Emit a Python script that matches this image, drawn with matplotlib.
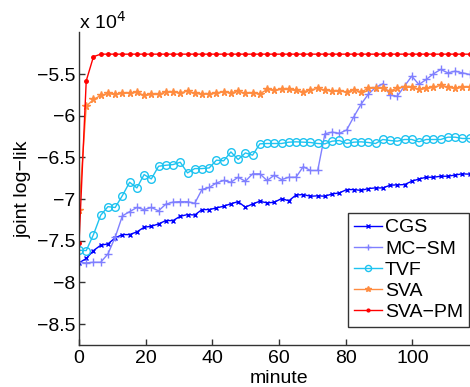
import numpy as np
import matplotlib
matplotlib.use("Agg")
import matplotlib.pyplot as plt
from matplotlib.ticker import FuncFormatter, FixedLocator

plt.rcParams['font.family'] = ['Liberation Sans', 'DejaVu Sans']

# time grid (minutes)
step = 2.17
n_pts = 55

# values in units of 1e4
cgs = [-7.765, -7.712, -7.617, -7.553, -7.537, -7.465, -7.425, -7.425, -7.393, -7.337,
       -7.325, -7.297, -7.257, -7.257, -7.205, -7.185, -7.19, -7.125, -7.125, -7.105,
       -7.085, -7.055, -7.03, -7.097, -7.057, -7.025, -7.045, -7.037, -6.993, -7.02,
       -6.95, -6.945, -6.965, -6.96, -6.965, -6.937, -6.925, -6.885, -6.885, -6.895,
       -6.873, -6.865, -6.865, -6.833, -6.828, -6.825, -6.785, -6.758, -6.737, -6.737,
       -6.725, -6.725, -6.71, -6.696, -6.70]
mcsm = [-7.76, -7.765, -7.757, -7.757, -7.657, -7.457, -7.2, -7.15, -7.1, -7.125,
        -7.1, -7.14, -7.06, -7.035, -7.03, -7.03, -7.05, -6.884, -6.86, -6.805,
        -6.776, -6.797, -6.737, -6.785, -6.696, -6.696, -6.776, -6.713, -6.765, -6.737,
        -6.737, -6.61, -6.656, -6.656, -6.214, -6.196, -6.21, -6.17, -6.01, -5.86,
        -5.74, -5.66, -5.616, -5.752, -5.764, -5.644, -5.524, -5.624, -5.564, -5.496,
        -5.444, -5.484, -5.464, -5.484, -5.504]
tvf = [-7.613, -7.617, -7.425, -7.193, -7.09, -7.1, -6.957, -6.797, -6.865, -6.705,
       -6.757, -6.605, -6.593, -6.585, -6.557, -6.685, -6.633, -6.633, -6.625, -6.532,
       -6.54, -6.433, -6.524, -6.445, -6.472, -6.336, -6.332, -6.332, -6.332, -6.316,
       -6.312, -6.316, -6.32, -6.332, -6.336, -6.304, -6.296, -6.332, -6.316, -6.312,
       -6.32, -6.332, -6.284, -6.296, -6.304, -6.284, -6.284, -6.312, -6.284, -6.284,
       -6.284, -6.256, -6.256, -6.272, -6.272]
sva = [-7.13, -5.884, -5.804, -5.756, -5.732, -5.744, -5.732, -5.724, -5.716, -5.756,
       -5.744, -5.744, -5.712, -5.712, -5.724, -5.704, -5.732, -5.734, -5.736, -5.724,
       -5.712, -5.724, -5.704, -5.732, -5.724, -5.736, -5.684, -5.692, -5.684, -5.684,
       -5.696, -5.712, -5.688, -5.672, -5.692, -5.70, -5.704, -5.712, -5.688, -5.712,
       -5.672, -5.664, -5.672, -5.704, -5.664, -5.656, -5.656, -5.684, -5.672, -5.656,
       -5.636, -5.656, -5.672, -5.656, -5.656]
svapm = [-7.53, -5.58, -5.29] + [-5.26] * 52

labels = ['CGS', 'MC\u2212SM', 'TVF', 'SVA', 'SVA\u2212PM']
xticks = [0, 20, 40, 60, 80, 100]
yticks = [-8.5, -8.0, -7.5, -7.0, -6.5, -6.0, -5.5]

t = np.arange(n_pts) * step
scale = 1e4
fs = 14

fig = plt.figure(figsize=(4.70, 3.87), dpi=100)
ax = fig.add_axes([79/470, 42/387, 400/470, (345-32.5)/387])

ax.plot(t, np.array(cgs)*scale, color='#0000ff', lw=1, marker='x', ms=3.5, mew=1, label=labels[0])
ax.plot(t, np.array(mcsm)*scale, color='#8080ff', lw=1, marker='+', ms=6, mew=1, label=labels[1])
ax.plot(t, np.array(tvf)*scale, color='#1ec3f0', lw=1, marker='o', ms=5.5, mfc='none', mew=1, label=labels[2])
ax.plot(t, np.array(sva)*scale, color='#ff8c40', lw=1, marker='*', ms=5.5, mew=1, label=labels[3])
ax.plot(t, np.array(svapm)*scale, color='#ff0000', lw=1, marker='.', ms=5, label=labels[4])

ax.set_xlim(0, 120)
ax.set_ylim(-8.75*scale, -5.0*scale)
ax.xaxis.set_major_locator(FixedLocator(xticks))
ax.yaxis.set_major_locator(FixedLocator([v*scale for v in yticks]))
ax.yaxis.set_major_formatter(FuncFormatter(lambda v, p: ('%g' % (v/scale)).replace('-', '\u2212')))
ax.xaxis.set_major_formatter(FuncFormatter(lambda v, p: '%g' % v))

for s in ['top', 'right']:
    ax.spines[s].set_visible(False)
for s in ['left', 'bottom']:
    ax.spines[s].set_color('#333333')
    ax.spines[s].set_linewidth(1)
ax.tick_params(direction='in', length=4, width=1, color='#333333', labelsize=fs)
ax.tick_params(axis='y', pad=2.5)
ax.tick_params(axis='x', pad=3.5)

ax.set_xlabel('minute', fontsize=fs, labelpad=2.5)
ax.set_ylabel('joint log\u2212lik', fontsize=fs, labelpad=4)

ax.text(0, 1.0, 'x 10$^4$', transform=ax.transAxes, fontsize=fs, ha='left', va='bottom')

leg = ax.legend(loc='upper left', bbox_to_anchor=(0.6725, 0.4224), fontsize=fs, frameon=True,
                fancybox=False, edgecolor='black', handlelength=1.45, handletextpad=0.15,
                borderpad=0.3, labelspacing=0.18, borderaxespad=0.0, markerscale=0.8)
leg.get_frame().set_linewidth(1)

fig.savefig('out.png', dpi=100)
